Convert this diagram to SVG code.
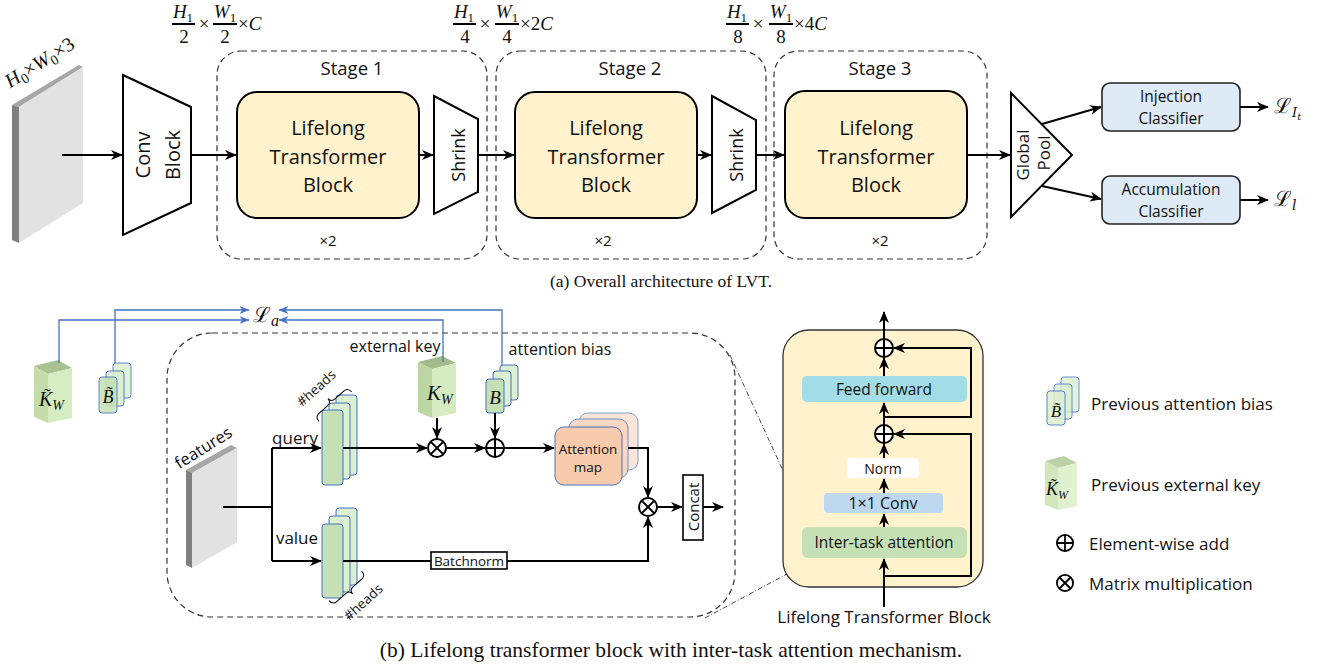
<svg xmlns="http://www.w3.org/2000/svg" width="1320" height="668" viewBox="0 0 1320 668">
<style>
.s{font-family:"Open Sans","Liberation Sans",sans-serif;fill:#111}
.c{text-anchor:middle;dominant-baseline:central}
.m{font-family:"Liberation Serif","DejaVu Serif",serif;fill:#111}
.i{font-style:italic}
.ln{fill:none;stroke:#000;stroke-width:2}
.ar{fill:none;stroke:#000;stroke-width:2;marker-end:url(#ah)}
.bl{fill:none;stroke:#4472c4;stroke-width:1.3;marker-end:url(#ahb)}
.dash{fill:none;stroke:#333;stroke-width:1.2;stroke-dasharray:6 4}
.ltb{fill:#fff2cc;stroke:#000;stroke-width:2}
.trap{fill:#fff;stroke:#000;stroke-width:2}
.cls{fill:#deebf7;stroke:#222;stroke-width:1.6}
.gr{fill:#c5e0b4;stroke:#4472c4;stroke-width:1}
.grl{fill:#dcefd0;stroke:#4472c4;stroke-width:1}
.op{fill:#fff;stroke:#000;stroke-width:2}
.dd{fill:none;stroke:#333;stroke-width:0.9;stroke-dasharray:5 2 1 2}
</style>
<defs>
<marker id="ah" viewBox="0 0 12 12" refX="11" refY="6" markerWidth="12" markerHeight="12" markerUnits="userSpaceOnUse" orient="auto"><path d="M0,1 L12,6 L0,11 L3.5,6 z" fill="#000"/></marker>
<marker id="ahb" viewBox="0 0 10 10" refX="9.5" refY="5" markerWidth="10" markerHeight="10" markerUnits="userSpaceOnUse" orient="auto"><path d="M0,1 L10,5 L0,9 L3,5 z" fill="#4472c4"/></marker>
<g id="otimes"><circle r="9" class="op"/><path d="M-6.4,-6.4 L6.4,6.4 M-6.4,6.4 L6.4,-6.4" stroke="#000" stroke-width="2"/></g>
<g id="oplus"><circle r="9" class="op"/><path d="M-9,0 H9 M0,-9 V9" stroke="#000" stroke-width="2"/></g>
</defs>
<rect width="1320" height="668" fill="#fff"/>

<!-- ===== (a) ===== -->
<g id="input">
<polygon points="12,105 79,65 83,67 19,107" fill="#a6a6a6"/>
<polygon points="12,105 19,107 19,243 12,240" fill="#7f7f7f"/>
<polygon points="19,107 83,67 83,203 19,243" fill="#e2e2e2"/>
<text class="m i" font-size="20" transform="translate(43,68) rotate(-32)" text-anchor="middle">H<tspan font-size="14" font-style="normal" dy="4">0</tspan><tspan dy="-4" font-style="normal">×</tspan>W<tspan font-size="14" font-style="normal" dy="4">0</tspan><tspan dy="-4" font-style="normal">×3</tspan></text>
</g>
<g id="conv">
<polygon class="trap" points="123,75 191,107 191,203 123,235"/>
<text class="s c" font-size="20" transform="translate(142,155) rotate(-90)">Conv</text>
<text class="s c" font-size="20" transform="translate(172,155) rotate(-90)">Block</text>
</g>

<g id="dims" class="m" font-size="19">
<text x="183" y="18" text-anchor="middle"><tspan class="i">H</tspan><tspan font-size="13" dy="4">1</tspan></text>
<line x1="172" y1="24" x2="195" y2="24" stroke="#000" stroke-width="2"/>
<text x="184" y="43" text-anchor="middle">2</text>
<text x="204" y="30" text-anchor="middle">×</text>
<text x="225" y="18" text-anchor="middle"><tspan class="i">W</tspan><tspan font-size="13" dy="4">1</tspan></text>
<line x1="213" y1="24" x2="237" y2="24" stroke="#000" stroke-width="2"/>
<text x="225" y="43" text-anchor="middle">2</text>
<text x="238" y="30">×<tspan class="i">C</tspan></text>

<text x="464" y="18" text-anchor="middle"><tspan class="i">H</tspan><tspan font-size="13" dy="4">1</tspan></text>
<line x1="453" y1="24" x2="476" y2="24" stroke="#000" stroke-width="2"/>
<text x="465" y="43" text-anchor="middle">4</text>
<text x="485" y="30" text-anchor="middle">×</text>
<text x="507" y="18" text-anchor="middle"><tspan class="i">W</tspan><tspan font-size="13" dy="4">1</tspan></text>
<line x1="495" y1="24" x2="519" y2="24" stroke="#000" stroke-width="2"/>
<text x="507" y="43" text-anchor="middle">4</text>
<text x="520" y="30">×2<tspan class="i">C</tspan></text>

<text x="737" y="18" text-anchor="middle"><tspan class="i">H</tspan><tspan font-size="13" dy="4">1</tspan></text>
<line x1="726" y1="24" x2="749" y2="24" stroke="#000" stroke-width="2"/>
<text x="738" y="43" text-anchor="middle">8</text>
<text x="758" y="30" text-anchor="middle">×</text>
<text x="781" y="18" text-anchor="middle"><tspan class="i">W</tspan><tspan font-size="13" dy="4">1</tspan></text>
<line x1="769" y1="24" x2="793" y2="24" stroke="#000" stroke-width="2"/>
<text x="781" y="43" text-anchor="middle">8</text>
<text x="794" y="30">×4<tspan class="i">C</tspan></text>
</g>

<g id="stage1">
<rect class="dash" x="217" y="51" width="270" height="208" rx="24"/>
<text class="s c" font-size="18.5" x="352" y="67">Stage 1</text>
<rect class="ltb" x="237" y="92" width="182" height="126" rx="20"/>
<text class="s c" font-size="20" x="328" y="127">Lifelong</text>
<text class="s c" font-size="20" x="328" y="156">Transformer</text>
<text class="s c" font-size="20" x="328" y="184">Block</text>
<polygon class="trap" points="434,96 478,119 478,192 434,214"/>
<text class="s c" font-size="18" transform="translate(458,155) rotate(-90)">Shrink</text>
<text class="s c" font-size="15" x="328" y="240">×2</text>
</g>
<g id="stage2">
<rect class="dash" x="496" y="51" width="270" height="208" rx="24"/>
<text class="s c" font-size="18.5" x="630" y="67">Stage 2</text>
<rect class="ltb" x="515" y="92" width="182" height="126" rx="20"/>
<text class="s c" font-size="20" x="606" y="127">Lifelong</text>
<text class="s c" font-size="20" x="606" y="156">Transformer</text>
<text class="s c" font-size="20" x="606" y="184">Block</text>
<polygon class="trap" points="712,96 756,120 756,190 712,213"/>
<text class="s c" font-size="18" transform="translate(736,155) rotate(-90)">Shrink</text>
<text class="s c" font-size="15" x="603" y="240">×2</text>
</g>
<g id="stage3">
<rect class="dash" x="774" y="51" width="213" height="208" rx="24"/>
<text class="s c" font-size="18.5" x="880" y="67">Stage 3</text>
<rect class="ltb" x="785" y="91" width="182" height="127" rx="20"/>
<text class="s c" font-size="20" x="876" y="127">Lifelong</text>
<text class="s c" font-size="20" x="876" y="156">Transformer</text>
<text class="s c" font-size="20" x="876" y="184">Block</text>
<text class="s c" font-size="15" x="880" y="240">×2</text>
</g>
<g id="pool">
<polygon class="trap" points="1011,93 1072,155 1011,217"/>
<text class="s c" font-size="17" transform="translate(1022,155) rotate(-90)">Global</text>
<text class="s c" font-size="17" transform="translate(1043,153) rotate(-90)">Pool</text>
</g>
<g id="injection">
<rect class="cls" x="1102" y="83" width="138" height="48" rx="8"/>
<text class="s c" font-size="15.5" x="1171" y="96">Injection</text>
<text class="s c" font-size="15.5" x="1171" y="118">Classifier</text>
</g>
<g id="accumulation">
<rect class="cls" x="1102" y="176" width="138" height="48" rx="8"/>
<text class="s c" font-size="15.5" x="1171" y="189">Accumulation</text>
<text class="s c" font-size="15.5" x="1171" y="211">Classifier</text>
</g>
<g id="losses" class="m">
<text x="1274" y="113" font-size="21" font-family="DejaVu Serif,serif">ℒ<tspan class="i" font-size="13" dy="4">I</tspan><tspan class="i" font-size="10" dy="3">t</tspan></text>
<text x="1274" y="206" font-size="21" font-family="DejaVu Serif,serif">ℒ<tspan class="i" font-size="14" dy="4">l</tspan></text>
</g>
<g id="connectors-a">
<path class="ar" d="M62,155 H122"/>
<path class="ar" d="M191,155 H236"/>
<path class="ar" d="M419,155 H433"/>
<path class="ar" d="M478,155 H514"/>
<path class="ar" d="M697,155 H711"/>
<path class="ar" d="M756,155 H784"/>
<path class="ar" d="M967,155 H1010"/>
<path class="ar" d="M1042,124 L1101,107"/>
<path class="ar" d="M1042,186 L1101,199"/>
<path class="ar" d="M1240,107 H1268"/>
<path class="ar" d="M1240,200 H1268"/>
</g>
<text class="m" font-size="17.5" x="661" y="287" text-anchor="middle">(a) Overall architecture of LVT.</text>

<!-- ===== (b) ===== -->
<g id="prev-key">
<polygon points="34,366 58,360 72,368 48,374" fill="#a9c193"/>
<polygon points="34,366 48,374 48,423 34,417" fill="#c3dcaa"/>
<polygon points="48,374 72,368 72,418 48,423" fill="#d6edc2"/>
<text class="m i" font-size="20" x="39" y="406">K̃<tspan font-size="14" dy="4">W</tspan></text>
</g>
<g id="prev-bias">
<rect class="grl" x="113" y="363" width="18" height="35" rx="3" opacity="0.85"/>
<rect class="grl" x="106" y="371" width="18" height="35" rx="3" opacity="0.9"/>
<rect class="gr" x="99" y="377" width="18" height="36" rx="3" opacity="0.85"/>
<text class="m i c" font-size="18" x="108" y="397">B̃</text>
</g>
<text id="loss-a" class="m" x="253" y="322" font-size="21" font-family="DejaVu Serif,serif">ℒ<tspan class="i" font-size="16" dy="4" font-family="Liberation Serif,serif">a</tspan></text>

<g id="block-frame">
<rect class="dash" x="167" y="333" width="568" height="284" rx="45" stroke="#555"/>
<path class="dd" d="M730,355 L807,523"/>
<path class="dd" d="M705,618 L813,560"/>
</g>
<g id="features">
<polygon points="186,470 231,445 237,448 192,473" fill="#a6a6a6"/>
<polygon points="186,470 192,473 192,568 186,565" fill="#7f7f7f"/>
<polygon points="192,473 237,448 237,542 192,568" fill="#e2e2e2"/>
<text class="s c" font-size="16.5" transform="translate(203,447) rotate(-32)">features</text>
</g>
<text class="s c" font-size="17" x="295" y="437">query</text>
<text class="s c" font-size="17" x="297" y="537">value</text>
<g id="query-heads">
<rect class="grl" x="336" y="395" width="21" height="80" rx="3"/>
<rect class="grl" x="329" y="403" width="21" height="76" rx="3"/>
<rect class="gr" x="322" y="410" width="21" height="75" rx="3"/>
<path d="M0,6 Q0,0 5,0 H17 Q22,0 22,-5 Q22,0 27,0 H39 Q44,0 44,6" fill="none" stroke="#000" stroke-width="1" transform="translate(315,417) rotate(-42)"/>
<text class="s c" font-size="13.5" transform="translate(316,388) rotate(-42)">#heads</text>
</g>
<g id="value-heads">
<rect class="grl" x="336" y="508" width="21" height="77" rx="3"/>
<rect class="grl" x="329" y="516" width="21" height="76" rx="3"/>
<rect class="gr" x="322" y="524" width="21" height="74" rx="3"/>
<path d="M0,-6 Q0,0 5,0 H17 Q22,0 22,5 Q22,0 27,0 H39 Q44,0 44,-6" fill="none" stroke="#000" stroke-width="1" transform="translate(333,605) rotate(-42)"/>
<text class="s c" font-size="13.5" transform="translate(363,602) rotate(-42)">#heads</text>
</g>
<g id="external-key">
<text class="s c" font-size="16" x="395" y="346">external key</text>
<polygon points="418,362 442,356 456,363 432,369" fill="#a3bb8b"/>
<polygon points="418,362 432,369 432,418 418,412" fill="#bcd6a3"/>
<polygon points="432,369 456,363 456,413 432,418" fill="#d4ecbf"/>
<text class="m i" font-size="21" x="427" y="400">K<tspan font-size="14" dy="4">W</tspan></text>
</g>
<g id="attention-bias">
<text class="s c" font-size="16" x="560" y="349">attention bias</text>
<rect class="grl" x="500" y="365" width="18" height="35" rx="3"/>
<rect class="grl" x="493" y="371" width="18" height="35" rx="3"/>
<rect class="gr" x="486" y="379" width="18" height="34" rx="3"/>
<text class="m i c" font-size="19" x="495" y="397">B</text>
</g>
<use id="mul1" href="#otimes" x="437" y="448"/>
<use id="add1" href="#oplus" x="495" y="448"/>
<g id="attention-map">
<rect x="579" y="413" width="59" height="57" rx="9" fill="#fbe5d6" stroke="#7f9fd6" stroke-width="1"/>
<rect x="569" y="419" width="59" height="59" rx="9" fill="#fad7c2" stroke="#6a8fd0" stroke-width="1"/>
<rect x="555" y="427" width="67" height="58" rx="9" fill="#f8cbad" stroke="#4472c4" stroke-width="1"/>
<text class="s c" font-size="13.5" x="588" y="449">Attention</text>
<text class="s c" font-size="13.5" x="588" y="467">map</text>
</g>
<g id="batchnorm">
<rect x="431" y="552" width="76" height="17" fill="#fff" stroke="#000" stroke-width="1.6"/>
<text class="s c" font-size="13.5" x="469" y="560.5">Batchnorm</text>
</g>
<use id="mul2" href="#otimes" x="648" y="507"/>
<g id="concat">
<rect x="683" y="475" width="20" height="65" fill="#fff" stroke="#000" stroke-width="1.6"/>
<text class="s c" font-size="15" transform="translate(693,507) rotate(-90)">Concat</text>
</g>

<g id="connectors-b">
<path class="ln" d="M223,507 H272 M272,448 V561"/>
<path class="ar" d="M272,448 H321"/>
<path class="ar" d="M272,561 H321"/>
<path class="ar" d="M343,448 H427"/>
<path class="ar" d="M437,418 V438"/>
<path class="ar" d="M446,448 H485"/>
<path class="ar" d="M495,413 V438"/>
<path class="ar" d="M504,448 H554"/>
<path class="ar" d="M628,448 H648 V497"/>
<path class="ln" d="M343,561 H431"/>
<path class="ar" d="M507,561 H648 V517"/>
<path class="ar" d="M657,507 H682"/>
<path class="ar" d="M703,507 H723"/>
<path class="bl" d="M59,363 V320 H249"/>
<path class="bl" d="M115,363 V310 H249"/>
<path class="bl" d="M443,362 V320 H279"/>
<path class="bl" d="M502,365 V310 H279"/>
</g>

<g id="ltb-detail">
<rect x="783" y="330" width="200" height="257" rx="26" fill="#fff2cc" stroke="#333" stroke-width="1.3"/>
<rect x="802" y="376" width="165" height="26" rx="5" fill="#a2dce7"/>
<text class="s c" font-size="15.5" x="884" y="389">Feed forward</text>
<rect x="847" y="458" width="72" height="20" rx="4" fill="#fff"/>
<text class="s c" font-size="14" x="883" y="468">Norm</text>
<rect x="824" y="493" width="119" height="20" rx="4" fill="#bdd7ee"/>
<text class="s c" font-size="16" x="883" y="503">1×1 Conv</text>
<rect x="802" y="527" width="165" height="31" rx="6" fill="#c5e0b4"/>
<text class="s c" font-size="15.5" x="884" y="542">Inter-task attention</text>
<use href="#oplus" x="884" y="348"/>
<use href="#oplus" x="884" y="434"/>
<path class="ar" d="M884,607 V559"/>
<path class="ar" d="M884,527 V514"/>
<path class="ar" d="M884,493 V479"/>
<path class="ar" d="M884,458 V444"/>
<path class="ar" d="M884,425 V403"/>
<path class="ar" d="M884,376 V358"/>
<path class="ar" d="M884,339 V312"/>
<path class="ar" d="M884,576 H971 V434 H894"/>
<path class="ar" d="M884,417 H971 V348 H894"/>
<text class="s c" font-size="17" x="884" y="616">Lifelong Transformer Block</text>
</g>

<g id="legend">
<rect class="grl" x="1061" y="377" width="18" height="35" rx="3" opacity="0.8"/>
<rect class="grl" x="1054" y="384" width="18" height="35" rx="3" opacity="0.8"/>
<rect class="grl" x="1047" y="391" width="18" height="34" rx="3" opacity="0.85"/>
<text class="m i c" font-size="17" x="1056" y="411">B̃</text>
<text class="s" font-size="17" x="1091" y="403" dominant-baseline="central">Previous attention bias</text>
<polygon points="1045,461 1064,456 1077,463 1058,468" fill="#bcd2a6"/>
<polygon points="1045,461 1058,468 1058,510 1045,505" fill="#d0e6bb"/>
<polygon points="1058,468 1077,463 1077,506 1058,510" fill="#e0f1d0"/>
<text class="m i" font-size="18" x="1046" y="495">K̃<tspan font-size="12" dy="4">W</tspan></text>
<text class="s" font-size="17" x="1091" y="484" dominant-baseline="central">Previous external key</text>
<use href="#oplus" x="1065" y="543" transform="translate(1065,543) scale(0.9) translate(-1065,-543)"/>
<text class="s" font-size="17" x="1089" y="543" dominant-baseline="central">Element-wise add</text>
<use href="#otimes" x="1065" y="583" transform="translate(1065,583) scale(0.9) translate(-1065,-583)"/>
<text class="s" font-size="17" x="1089" y="583" dominant-baseline="central">Matrix multiplication</text>
</g>
<text class="m" font-size="21.5" x="671" y="657" text-anchor="middle">(b) Lifelong transformer block with inter-task attention mechanism.</text>
</svg>
